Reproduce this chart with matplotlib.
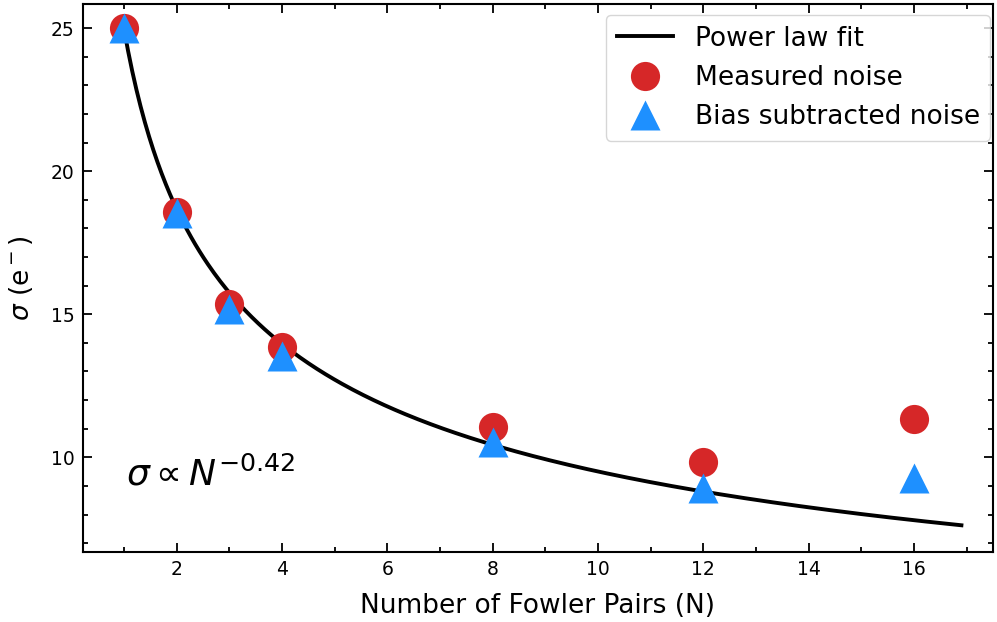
import numpy as np
import matplotlib
matplotlib.use("Agg")
import matplotlib.pyplot as plt
from matplotlib.ticker import MultipleLocator

# Data
n_pairs   = [1, 2, 3, 4, 8, 12, 16]
measured  = [25.0, 18.57, 15.37, 13.87, 11.05, 9.82, 11.35]
bias_sub  = [25.0, 18.53, 15.2, 13.55, 10.55, 8.92, 9.29]
fit_amp   = 25.0
fit_index = -0.42
fit_range = (1, 16.9)

fig = plt.figure(figsize=(9.97, 6.22), dpi=100)
ax = fig.add_axes([0.083, 0.1125, 0.913, 0.881])

nn = np.linspace(fit_range[0], fit_range[1], 400)
ax.plot(nn, fit_amp * nn**fit_index, color='black', lw=2.8, label='Power law fit', zorder=2)
ax.plot(n_pairs, measured, 'o', color='#d62728', ms=21, mec='none', label='Measured noise', zorder=3)
ax.plot(n_pairs, bias_sub, '^', color='#1e90ff', ms=21, mec='none', label='Bias subtracted noise', zorder=4)

ax.text(1.05, 9.02, r'$\sigma \propto N^{-0.42}$', fontsize=26)

ax.set_xlim(0.22, 17.5)
ax.set_ylim(6.69, 25.84)
ax.set_xticks([2, 4, 6, 8, 10, 12, 14, 16])
ax.set_yticks([10, 15, 20, 25])
ax.xaxis.set_minor_locator(MultipleLocator(1))
ax.yaxis.set_minor_locator(MultipleLocator(1))
ax.tick_params(which='both', direction='in', top=True, right=True, labelsize=13.5, width=1.3)
ax.tick_params(which='major', length=6.7, pad=6)
ax.tick_params(which='minor', length=3.6)
for s in ax.spines.values():
    s.set_linewidth(1.5)

ax.set_xlabel('Number of Fowler Pairs (N)', fontsize=19, labelpad=10)
ax.set_ylabel(r'$\sigma$ (e$^-$)', fontsize=19, labelpad=11)
ax.legend(loc='upper right', bbox_to_anchor=(0.997, 0.98), fontsize=19,
          handlelength=2.15, labelspacing=0.5, borderaxespad=0)

fig.savefig('out.png', dpi=100)
